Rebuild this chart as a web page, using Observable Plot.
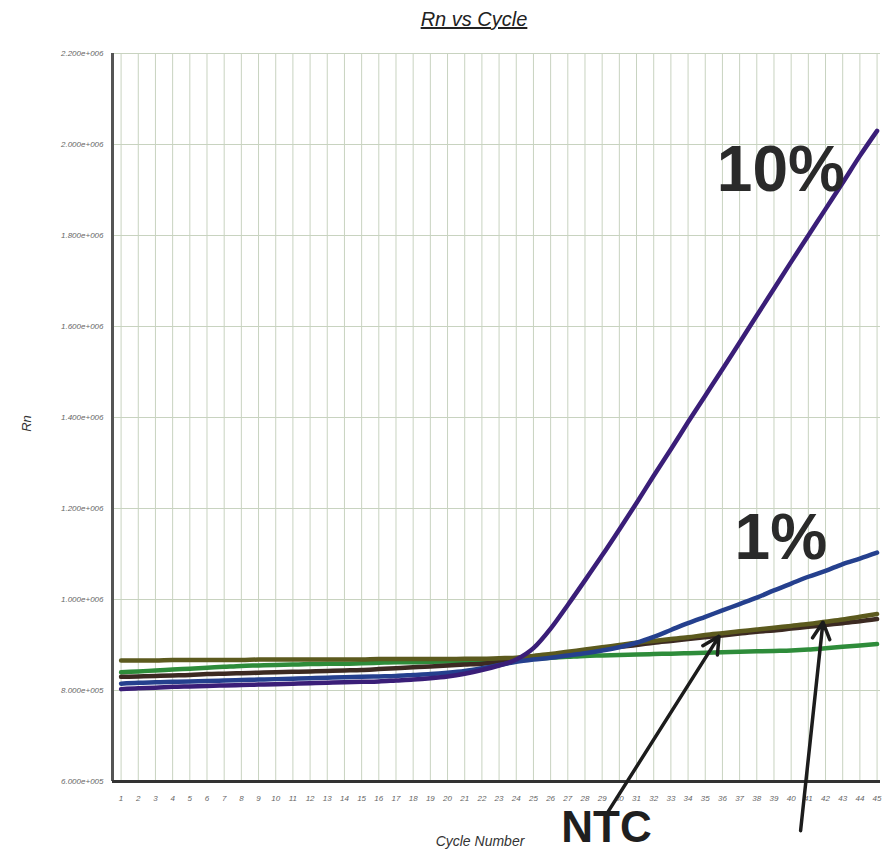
<!DOCTYPE html>
<html><head><meta charset="utf-8">
<script src="https://cdn.jsdelivr.net/npm/d3@7"></script>
<script src="https://cdn.jsdelivr.net/npm/@observablehq/plot@0.6"></script>
<style>
body{margin:0;background:#fff;}
#wrap{position:relative;width:882px;height:851px;overflow:hidden;}
#wrap svg{position:absolute;left:0;top:0;}
.lbl{position:absolute;font-family:"Liberation Sans",Arial,sans-serif;font-style:italic;color:#333;white-space:nowrap;}
#title{top:8px;left:374px;width:200px;text-align:center;font-size:20px;text-decoration:underline;color:#222;}
#xlab{top:833px;left:380px;width:200px;text-align:center;font-size:14px;}
#ylab{top:416px;left:18px;font-size:13px;transform:rotate(-90deg);transform-origin:center;}
</style></head><body>
<div id="wrap"></div>
<script>
// ---- data (Rn values in thousands) ----
const cycles = [1,2,3,4,5,6,7,8,9,10,11,12,13,14,15,16,17,18,19,20,21,22,23,24,25,26,27,28,29,30,31,32,33,34,35,36,37,38,39,40,41,42,43,44,45];
const tenPct = [803,805,806,808,809,810,811,812,813,814,815,816,817,818,819,820,822,824,827,831,837,845,855,868,
  893,936,988,1042,1097,1154,1212,1272,1330,1390,1448,1506,1565,1624,1683,1742,1800,1858,1916,1975,2030];
const onePct = [815,817,818,819,820,821,822,823,824,825,826,827,828,829,830,831,832,834,836,839,843,849,856,863,
  868,872,877,882,888,895,905,918,933,948,962,976,990,1004,1020,1035,1050,1063,1078,1090,1103];
const ntcOlive = [866,866,866,867,867,867,867,867,868,868,868,868,868,868,868,869,869,869,869,869,870,870,871,872,
  876,880,885,890,895,900,905,909,913,917,922,926,930,934,938,942,946,951,956,962,968];
const ntcDark = [830,831,832,833,834,836,837,838,839,840,841,842,843,844,845,847,849,851,853,855,857,859,862,866,
  870,875,880,886,891,896,900,905,909,913,917,921,925,929,932,936,940,944,948,952,957];
const greenSeries = [840,842,844,846,848,850,852,854,855,856,857,858,859,859,860,861,862,862,863,864,865,866,867,868,
  870,872,874,876,877,878,879,880,881,882,883,884,885,886,887,888,890,893,896,899,902];
const seriesNames = ["green","NTC dark","NTC olive","1%","10%"];
const seriesColors = ["#2e8c3a","#3c2a22","#5c5a1e","#25408e","#3a1e78"];
const yTicks = [600000,800000,1000000,1200000,1400000,1600000,1800000,2000000,2200000];
const yTickLabels = ["6.000e+005","8.000e+005","1.000e+006","1.200e+006","1.400e+006","1.600e+006","1.800e+006","2.000e+006","2.200e+006"];
// annotations (data coordinates)
const bigLabels = [{text:"10%", cycle:39.4, rn:1943000},{text:"1%", cycle:39.4, rn:1134000}];
const ntcLabel = [{text:"NTC", cycle:29.25, rn:499000}];
const ntcArrows = [
  {x1:29.2, y1:525000, x2:35.8, y2:919000},
  {x1:40.55, y1:492000, x2:41.85, y2:950000}
];

const seriesValues = [greenSeries, ntcDark, ntcOlive, onePct, tenPct];
const rows = [];
seriesNames.forEach((name, s) => cycles.forEach((c, i) => rows.push({series:name, cycle:c, rn:seriesValues[s][i]*1000})));

const font = '"Liberation Sans", Arial, sans-serif';
const chart = Plot.plot({
  width: 882, height: 851,
  marginLeft: 112, marginRight: 2, marginTop: 53, marginBottom: 70,
  style: {fontFamily: font, background: "transparent", overflow: "visible"},
  x: {domain: [0.5, 45.2]},
  y: {domain: [600000, 2200000]},
  color: {domain: seriesNames, range: seriesColors},
  marks: [
    Plot.gridX(cycles, {stroke: "#c8d3c0", strokeOpacity: 1, strokeWidth: 1}),
    Plot.gridY(yTicks, {stroke: "#c8d3c0", strokeOpacity: 1, strokeWidth: 1}),
    Plot.axisX({ticks: cycles, tickSize: 0, tickPadding: 14, fontSize: 8, fill: "#666", fontStyle: "italic", label: null}),
    Plot.axisY({ticks: yTicks, tickFormat: d => yTickLabels[yTicks.indexOf(d)], tickSize: 0, tickPadding: 9, fontSize: 8, fill: "#666", fontStyle: "italic", label: null}),
    Plot.ruleX([0.5], {stroke: "#555", strokeWidth: 3}),
    Plot.ruleY([600000], {stroke: "#333", strokeWidth: 3}),
    Plot.line(rows, {x: "cycle", y: "rn", z: "series", stroke: "series", strokeWidth: 4.5, curve: "monotone-x"}),
    Plot.arrow(ntcArrows, {x1: "x1", y1: "y1", x2: "x2", y2: "y2", stroke: "#1c1c1c", strokeWidth: 3.5, headLength: 8, headAngle: 55, clip: false}),
    Plot.text(bigLabels, {x: "cycle", y: "rn", text: "text", fontSize: 64, fontWeight: "bold", fill: "#2a2a2a", fontFamily: font}),
    Plot.text(ntcLabel, {x: "cycle", y: "rn", text: "text", fontSize: 44, fontWeight: "bold", fill: "#1f1f1f", fontFamily: font})
  ]
});
const wrap = document.getElementById("wrap");
wrap.appendChild(chart);
for (const [id, t] of [["title","Rn vs Cycle"],["xlab","Cycle Number"],["ylab","Rn"]]) {
  const d = document.createElement("div");
  d.className = "lbl"; d.id = id; d.textContent = t;
  wrap.appendChild(d);
}
</script>
</body></html>
